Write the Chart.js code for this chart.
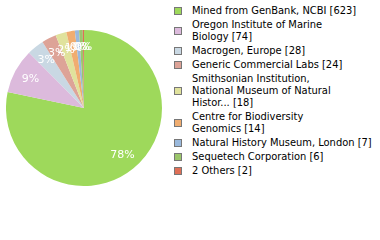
<!DOCTYPE html>
<html>
<head>
<meta charset="utf-8">
<script src="https://cdn.jsdelivr.net/npm/chart.js@4"></script>
<style>
  body { margin: 0; background: #fff; width: 380px; height: 240px; overflow: hidden; position: relative; }
  #pieBox { position: absolute; left: 6px; top: 30px; width: 156px; height: 156px; }
  #legend { position: absolute; left: 174px; top: 5px; font-family: "DejaVu Sans Condensed", "DejaVu Sans", sans-serif; font-stretch: condensed; font-size: 11px; color: #000; }
  .item { position: relative; padding-left: 18px; line-height: 12px; margin-bottom: 2px; white-space: nowrap; }
  .sw { position: absolute; left: 0; width: 6px; height: 6px; border: 1px solid #777; }
</style>
</head>
<body>
<div id="pieBox"><canvas id="pie"></canvas></div>
<div id="legend"></div>
<script>
// labels, split into the lines shown in the legend
const labels = [
  ["Mined from GenBank, NCBI [623]"],
  ["Oregon Institute of Marine", "Biology [74]"],
  ["Macrogen, Europe [28]"],
  ["Generic Commercial Labs [24]"],
  ["Smithsonian Institution,", "National Museum of Natural", "Histor... [18]"],
  ["Centre for Biodiversity", "Genomics [14]"],
  ["Natural History Museum, London [7]"],
  ["Sequetech Corporation [6]"],
  ["2 Others [2]"]
];
const counts = [623, 74, 28, 24, 18, 14, 7, 6, 2];
const colors = ["#9ed95b", "#dcbadc", "#c9d8e3", "#dda397", "#e0e29c", "#f0ad70", "#9ab9dc", "#9bc66b", "#df6f56"];

const total = counts.reduce((a, b) => a + b, 0);

// white percentage text in each slice
const pctLabels = {
  id: "pctLabels",
  afterDatasetsDraw(chart) {
    const ctx = chart.ctx;
    const meta = chart.getDatasetMeta(0);
    ctx.save();
    ctx.fillStyle = "#fff";
    ctx.font = "11px 'DejaVu Sans'";
    ctx.textAlign = "center";
    ctx.textBaseline = "middle";
    meta.data.forEach((arc, i) => {
      const mid = (arc.startAngle + arc.endAngle) / 2;
      const r = arc.outerRadius * 0.78;
      const x = arc.x + Math.cos(mid) * r;
      const y = arc.y + Math.sin(mid) * r;
      ctx.fillText(Math.floor(counts[i] / total * 100) + "%", x, y);
    });
    ctx.restore();
  }
};

new Chart(document.getElementById("pie").getContext("2d"), {
  type: "pie",
  data: {
    labels: labels.map(l => l.join(" ")),
    datasets: [{ data: counts, backgroundColor: colors, borderWidth: 0 }]
  },
  options: {
    responsive: true,
    maintainAspectRatio: false,
    animation: false,
    layout: { padding: 0 },
    plugins: { legend: { display: false }, tooltip: { enabled: false } }
  },
  plugins: [pctLabels]
});

const legend = document.getElementById("legend");
labels.forEach((lines, i) => {
  const item = document.createElement("div");
  item.className = "item";
  const sw = document.createElement("span");
  sw.className = "sw";
  sw.style.background = colors[i];
  sw.style.top = ((lines.length * 12) / 2 - 4) + "px";
  item.appendChild(sw);
  item.insertAdjacentHTML("beforeend", lines.join("<br>"));
  legend.appendChild(item);
});
</script>
</body>
</html>
